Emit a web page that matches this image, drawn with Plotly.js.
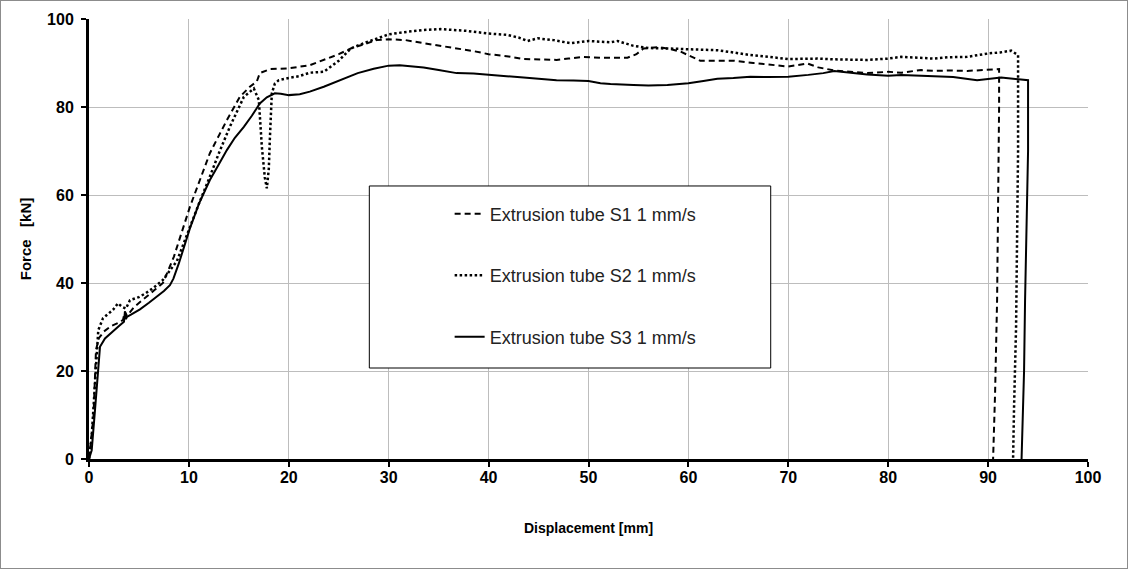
<!DOCTYPE html>
<html>
<head>
<meta charset="utf-8">
<script src="https://cdn.plot.ly/plotly-3.0.1.min.js"></script>
<style>
html,body{margin:0;padding:0;background:#fff;}
#wrap{width:1126px;height:567px;border:1px solid #8c8c8c;}
#chart{width:1126px;height:567px;}
</style>
</head>
<body>
<div id="wrap"><div id="chart"></div></div>
<script>
// Series names
const seriesNames = ["Extrusion tube S1 1 mm/s", "Extrusion tube S2 1 mm/s", "Extrusion tube S3 1 mm/s"];

// S1 (dashed)
const s1x = [0, 0.2, 0.45, 0.7, 1.0, 1.5, 2.2, 3.0, 3.4, 3.6, 3.8, 4.5, 5.7, 6.5, 7.4, 8.5, 10.1, 11.0, 12.1, 13.0, 13.8, 15.1, 16.1, 16.8, 17.1, 18.1, 20.0, 22.1, 23.5, 25.0, 26.2, 27.5, 28.8, 30.0, 31.7, 33.5, 35.0, 36.8, 38.5, 40.0, 42.0, 43.5, 45.0, 46.8, 48.0, 49.4, 51.2, 53.9, 54.8, 55.5, 57.0, 57.9, 59.2, 60.2, 61.2, 62.9, 64.6, 66.5, 67.9, 70.0, 71.9, 73.0, 74.6, 76.0, 77.9, 80.0, 81.3, 83.3, 84.6, 86.0, 87.9, 89.5, 90.9, 91.1, 91.1, 91.0, 90.9, 90.7, 90.5];
const s1y = [0, 5, 9.6, 24.8, 27.5, 29, 30.2, 31, 31.6, 33.5, 32.5, 34.5, 36.9, 38.3, 40, 46, 57.3, 63, 69.5, 73.5, 77, 82.3, 84.6, 85.8, 87.7, 88.6, 88.8, 89.5, 90.7, 92, 93.3, 94.3, 95.2, 95.4, 95.2, 94.5, 94, 93.3, 92.7, 92, 91.5, 90.9, 90.8, 90.7, 91, 91.4, 91.2, 91.2, 92, 93.3, 93.6, 93.3, 92.6, 91.5, 90.5, 90.5, 90.5, 90, 89.7, 89.2, 89.9, 89.0, 88.3, 88, 87.7, 88.0, 87.8, 88.4, 88.2, 88.3, 88.2, 88.4, 88.6, 88.6, 80, 60, 36, 15, 0];

// S2 (dotted)
const s2x = [0, 0.27, 0.6, 0.93, 1.4, 2.0, 2.4, 2.9, 3.3, 3.7, 4.1, 5.0, 5.7, 6.5, 7.4, 8.8, 10.1, 11.0, 12.1, 13.0, 14.1, 15.5, 16.5, 17.0, 17.3, 17.6, 17.8, 18.0, 18.1, 18.3, 18.6, 19.0, 20.0, 21.0, 22.1, 23.5, 25.0, 26.2, 27.5, 28.8, 30.0, 31.5, 33.5, 35.2, 37.8, 40.0, 41.8, 43.0, 43.9, 44.9, 46.5, 48.2, 50.0, 52.2, 52.9, 54.5, 56.0, 57.9, 60.0, 62.9, 64.5, 66.2, 68.0, 70.0, 72.9, 75.0, 77.9, 80.0, 81.3, 83.3, 84.6, 86.0, 87.9, 90.1, 91.2, 92.3, 93.0, 93.0, 92.9, 92.8, 92.6, 92.5];
const s2y = [0, 5.1, 17.2, 29.3, 32, 33.2, 33.9, 35.4, 34.6, 34.2, 36.1, 36.8, 37.7, 39, 40.7, 45, 52.8, 58, 64.2, 69.5, 75.5, 82.3, 84.2, 81.6, 71.0, 64, 61.5, 66, 72.5, 83.1, 85.3, 86.1, 86.6, 87, 87.8, 88.0, 90.5, 93.3, 94.5, 95.6, 96.5, 97, 97.5, 97.7, 97.3, 96.7, 96.4, 95.8, 95.0, 95.6, 95.2, 94.5, 95.0, 94.7, 95.0, 93.9, 93.4, 93.3, 93.1, 92.9, 92.4, 91.8, 91.4, 90.9, 91.0, 90.8, 90.7, 91.0, 91.4, 91.2, 91.0, 91.3, 91.4, 92.2, 92.4, 92.8, 91.8, 70, 50, 30, 12, 0];

// S3 (solid)
const s3x = [0, 0.27, 0.6, 0.93, 1.1, 1.6, 2.4, 3.0, 3.5, 3.6, 3.7, 3.8, 4.2, 5.1, 6.0, 6.8, 7.5, 8.1, 8.45, 9.0, 10.1, 11.0, 12.1, 13.0, 13.8, 14.6, 15.5, 16.3, 17.1, 17.8, 18.6, 19.2, 20.0, 21.1, 22.1, 23.5, 25.0, 26.9, 28.5, 30.0, 31.1, 32.2, 33.5, 35.0, 36.8, 38.5, 40.0, 41.8, 43.5, 45.0, 46.8, 48.5, 50.0, 51.2, 52.2, 54.5, 56.0, 57.9, 60.0, 61.5, 62.9, 64.5, 66.2, 68.0, 70.0, 72.0, 73.5, 74.6, 76.0, 77.9, 80.0, 81.3, 83.3, 84.6, 86.5, 88.9, 90.0, 91.3, 92.5, 93.9, 94.0, 94.0, 93.8, 93.7, 93.6, 93.45, 93.35];
const s3y = [0, 2, 11.1, 19.5, 25.5, 27.4, 28.9, 30.2, 31.2, 33.5, 31.8, 32.3, 32.8, 34.0, 35.5, 36.9, 38.2, 39.5, 41, 44.5, 52.4, 58, 63.4, 67, 70.2, 73, 75.5, 78, 80.8, 82.2, 83.1, 83.0, 82.7, 82.9, 83.5, 84.6, 86.0, 87.7, 88.7, 89.4, 89.5, 89.3, 89.0, 88.4, 87.7, 87.6, 87.4, 87.0, 86.7, 86.4, 86.1, 86.0, 85.9, 85.4, 85.2, 85.0, 84.9, 85.0, 85.4, 85.9, 86.4, 86.6, 86.9, 86.8, 86.9, 87.3, 87.7, 88.2, 87.8, 87.4, 87.1, 87.3, 87.1, 87.0, 86.8, 86.1, 86.3, 86.7, 86.4, 86.1, 86.1, 70, 50, 36, 20, 8, 0];

// Axis ticks
const xTicks = [0, 10, 20, 30, 40, 50, 60, 70, 80, 90, 100];
const yTicks = [0, 20, 40, 60, 80, 100];

const FONT = "Liberation Sans, Arial, sans-serif";

const traces = [
  {x: s1x, y: s1y, name: seriesNames[0], legendgroup: "a", mode: "lines",
   line: {color: "#000", width: 2, dash: "6px,4px"}},
  {x: s2x, y: s2y, name: seriesNames[1], legendgroup: "b", mode: "lines",
   line: {color: "#000", width: 2.5, dash: "2.5px,2.5px"}},
  {x: s3x, y: s3y, name: seriesNames[2], legendgroup: "c", mode: "lines",
   line: {color: "#000", width: 2}}
];

const layout = {
  width: 1126, height: 567,
  margin: {l: 88, r: 39, t: 18, b: 109},
  paper_bgcolor: "#fff", plot_bgcolor: "#fff",
  font: {family: FONT, color: "#000"},
  showlegend: true,
  legend: {
    x: 0.361, xanchor: "left", y: 0.5985, yanchor: "top",
    bgcolor: "rgba(0,0,0,0)", borderwidth: 0,
    traceorder: "grouped", tracegroupgap: 35,
    font: {family: FONT, size: 18, color: "#222"}
  },
  xaxis: {
    range: [0, 100], tickvals: xTicks, ticktext: xTicks.map(String),
    showgrid: true, gridcolor: "#bdbdbd", gridwidth: 1,
    showline: true, linecolor: "#000", linewidth: 3,
    ticks: "outside", ticklen: 5, tickwidth: 2, tickcolor: "#000",
    ticklabelstandoff: -3,
    zeroline: false,
    tickfont: {family: FONT, size: 16, color: "#000", weight: "bold"},
    title: {text: "<b>Displacement [mm]</b>", standoff: 38, font: {family: FONT, size: 14, color: "#000"}},
    fixedrange: true
  },
  yaxis: {
    range: [0, 100], tickvals: yTicks, ticktext: yTicks.map(String),
    showgrid: true, gridcolor: "#bdbdbd", gridwidth: 1,
    showline: true, linecolor: "#000", linewidth: 3,
    ticks: "outside", ticklen: 5, tickwidth: 2, tickcolor: "#000",
    ticklabelstandoff: 4,
    zeroline: false,
    tickfont: {family: FONT, size: 16, color: "#000", weight: "bold"},
    title: {text: "<b>Force\u00a0\u00a0 [kN]</b>", standoff: 12, font: {family: FONT, size: 15, color: "#000"}},
    fixedrange: true
  },
  shapes: [
    {type: "rect", xref: "paper", yref: "paper",
     x0: 0.2806, x1: 0.6824, y0: 0.2068, y1: 0.6205,
     fillcolor: "#fff", line: {color: "#000", width: 1}, layer: "above"}
  ]
};

Plotly.newPlot("chart", traces, layout, {displayModeBar: false, staticPlot: true});
</script>
</body>
</html>
